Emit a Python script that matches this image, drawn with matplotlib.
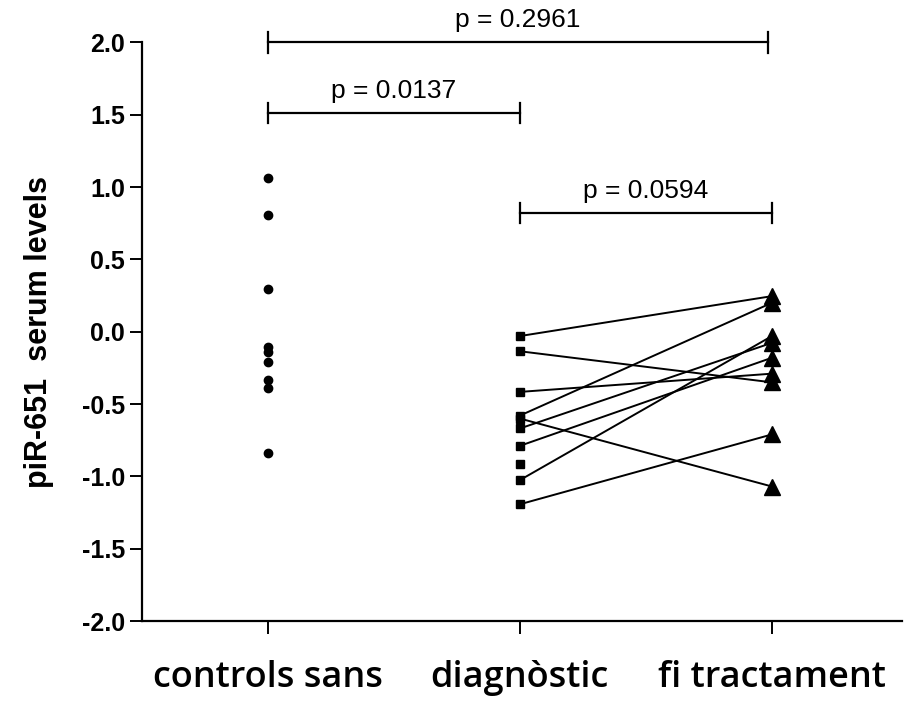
import numpy as np
import matplotlib
matplotlib.use("Agg")
import matplotlib.pyplot as plt

# piR-651 serum levels per group
groups = ["controls sans", "diagnòstic", "fi tractament"]
controls = [1.065, 0.805, 0.298, -0.105, -0.14, -0.209, -0.335, -0.392, -0.841]
diagnosis = [-0.03, -0.135, -0.416, -0.58, -0.60, -0.669, -0.789, -0.917, -1.026, -1.193]
# paired end-of-treatment value for each diagnosis sample (nan = no follow-up)
end_treatment = [0.246, -0.35, -0.29, 0.20, -1.07, -0.077, -0.18, np.nan, -0.03, -0.71]

# significance brackets: (from group, to group, height, label)
brackets = [
    (0, 2, 2.0, "p = 0.2961"),
    (0, 1, 1.51, "p = 0.0137"),
    (1, 2, 0.82, "p = 0.0594"),
]

fig = plt.figure(figsize=(9.23, 7.07), dpi=100)
ax = fig.add_axes([0.1535, 0.1216, 0.8235, 0.8184])

# paired lines first, markers on top
for d, e in zip(diagnosis, end_treatment):
    if not np.isnan(e):
        ax.plot([1, 2], [d, e], color="black", linewidth=1.4, zorder=2)

ax.plot(np.zeros(len(controls)), controls, "o", color="black", ms=6, zorder=3)
ax.plot(np.ones(len(diagnosis)), diagnosis, "s", color="black", ms=5.5, zorder=3)
ends = [e for e in end_treatment if not np.isnan(e)]
ax.plot(np.full(len(ends), 2), ends, "^", color="black", ms=12, zorder=3)

cap = 0.07
for x0, x1, y, label in brackets:
    x1 = x1 - 0.015 if x1 == 2 and x0 == 0 else x1
    ax.plot([x0, x1], [y, y], color="black", lw=1.6, clip_on=False)
    ax.plot([x0, x0], [y - cap, y + cap], color="black", lw=1.6, clip_on=False)
    ax.plot([x1, x1], [y - cap, y + cap], color="black", lw=1.6, clip_on=False)
    ax.text((x0 + x1) / 2, y + 0.07, label, ha="center", va="bottom",
            fontsize=19, family="Liberation Sans", clip_on=False)

ax.set_xlim(-0.5, 2.515)
ax.set_ylim(-2.0, 2.0)
ax.set_yticks(np.arange(-2.0, 2.01, 0.5))
ax.set_yticklabels([f"{v:.1f}" for v in np.arange(-2.0, 2.01, 0.5)],
                   fontsize=18, fontweight="bold", family="Liberation Sans")
ax.set_xticks([0, 1, 2])
ax.set_xticklabels(groups, fontsize=26, fontweight="semibold", family="Open Sans")

ax.spines["top"].set_visible(False)
ax.spines["right"].set_visible(False)
ax.spines["left"].set_linewidth(1.6)
ax.spines["bottom"].set_linewidth(1.6)
ax.tick_params(axis="y", length=9, width=1.4, pad=3)
ax.tick_params(axis="x", length=9, width=1.4, pad=19)

ax.set_ylabel("piR-651  serum levels", fontsize=22, fontweight="bold",
              family="Liberation Sans", labelpad=20)

fig.savefig("out.png", dpi=100)
